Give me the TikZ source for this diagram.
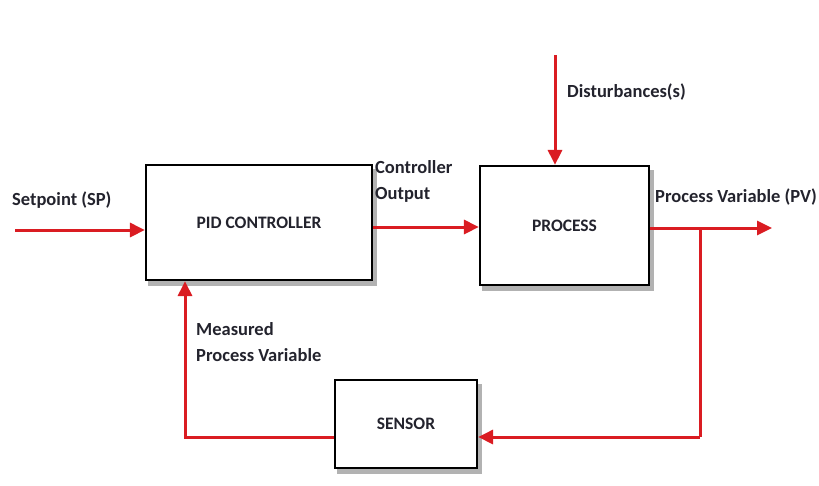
\documentclass[tikz,border=0pt]{standalone}
\usepackage{fontspec}
\setmainfont{Carlito}
\usetikzlibrary{arrows.meta,backgrounds}
\definecolor{lred}{RGB}{218,28,34}
\definecolor{txt}{RGB}{35,35,45}
\begin{document}
\begin{tikzpicture}[x=1pt,y=-1pt,
  blk/.style={draw=black,line width=2.2pt,fill=white,text=txt,
    font=\fontsize{17.5}{20}\selectfont\bfseries},
  shd/.style={fill=black,opacity=0.3},
  arr/.style={draw=lred,line width=3pt,-{Triangle[length=15pt,width=14pt]}},
  lbl/.style={text=txt,font=\fontsize{18.5}{26}\selectfont\bfseries,inner sep=0pt,align=left}]
\useasboundingbox (0,0) rectangle (819,485);
\node[blk,minimum width=226pt,minimum height=115pt] (pid) at (259,222.5) {PID CONTROLLER};
\node[blk,minimum width=169pt,minimum height=119pt] (proc) at (564.5,225.5) {PROCESS};
\node[blk,minimum width=142pt,minimum height=88pt] (sensor) at (406,424) {SENSOR};
\begin{scope}[on background layer]
\foreach \b in {pid,proc,sensor}{
  \fill[shd] ([shift={(3,5)}]\b.north west) rectangle ([shift={(4,5)}]\b.south east);
}
\end{scope}
\coordinate (sp) at (15,230);
\coordinate (pv) at (772,228);
\coordinate (br) at (700,228);
\coordinate (sb) at (700,437);
\coordinate (fb) at (185,437);
\coordinate (dist) at (555,55);
\draw[arr] (sp) -- (sp -| pid.west);
\draw[arr] (pid.east |- 0,227) -- (proc.west |- 0,227);
\draw[arr] (proc.east |- pv) -- (pv);
\draw[draw=lred,line width=3pt] (br) -- (sb);
\draw[arr] (sb) -- (sb -| sensor.east);
\draw[arr] (sensor.west |- fb) -- (fb) -- (fb |- pid.south);
\draw[arr] (dist) -- (dist |- proc.north);
\node[lbl,anchor=west] (l1) at (12,200) {Setpoint (SP)};
\node[lbl,anchor=north west] (l2) at (375,160) {Controller\\Output};
\node[lbl,anchor=west] (l3) at (655,197) {Process Variable (PV)};
\node[lbl,anchor=west] (l4) at (567,92) {Disturbances(s)};
\node[lbl,anchor=north west] (l5) at (196,322) {Measured\\Process Variable};
\end{tikzpicture}
\end{document}
